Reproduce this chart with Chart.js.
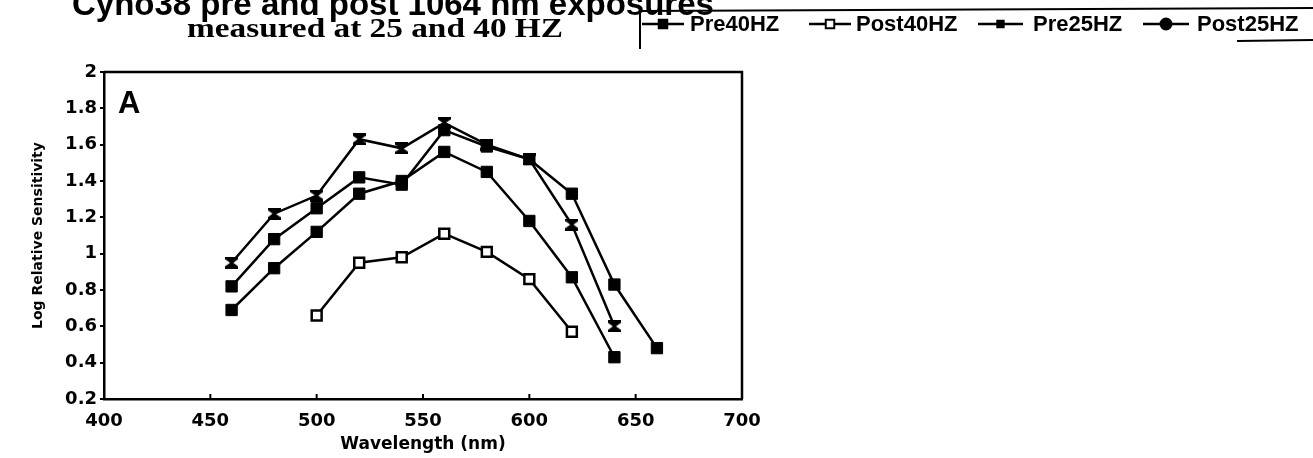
<!DOCTYPE html>
<html>
<head>
<meta charset="utf-8">
<script src="https://cdn.jsdelivr.net/npm/chart.js@4.4.1/dist/chart.umd.min.js"></script>
<style>
  body { margin: 0; background: #fff; }
  canvas { display: block; }
</style>
</head>
<body>
<canvas id="chart" width="1313" height="458"></canvas>
<script>
// values
var wavelengths = [460, 480, 500, 520, 540, 560, 580, 600, 620, 640, 660];
var pre40 = [0.82, 1.08, 1.25, 1.42, 1.38, 1.68, 1.59, 1.52, 1.33, 0.83, 0.48];
var post40 = [null, null, 0.66, 0.95, 0.98, 1.11, 1.01, 0.86, 0.57, null, null];
var pre25 = [0.95, 1.22, 1.32, 1.63, 1.58, 1.72, 1.60, 1.52, 1.16, 0.60, null];
var post25 = [0.69, 0.92, 1.12, 1.33, 1.40, 1.56, 1.45, 1.18, 0.87, 0.43, null];
var seriesNames = ['Pre40HZ', 'Post40HZ', 'Pre25HZ', 'Post25HZ'];

var xMin = 400, xMax = 700, xStep = 50;
var yMin = 0.2, yMax = 2, yStep = 0.2;

var titleText = 'Cyno38 pre and post 1064 nm exposures';
var subtitleText = 'measured at 25 and 40 HZ';
var panelLabel = 'A';
var xTitle = 'Wavelength (nm)';
var yTitle = 'Log Relative Sensitivity';

function toPoints(values) {
    var pts = [];
    wavelengths.forEach((w, i) => {
        if (values[i] !== null) pts.push({x: w, y: values[i]});
    });
    return pts;
}

// bow-tie marker used for the Pre25HZ curve
function hourglass() {
    var c = document.createElement('canvas');
    c.width = 13; c.height = 12;
    var g = c.getContext('2d');
    g.fillStyle = '#000';
    g.beginPath();
    g.moveTo(0, 0); g.lineTo(13, 0); g.lineTo(13, 2.5); g.lineTo(8, 6);
    g.lineTo(13, 9.5); g.lineTo(13, 12); g.lineTo(0, 12); g.lineTo(0, 9.5);
    g.lineTo(5, 6); g.lineTo(0, 2.5);
    g.closePath();
    g.fill();
    return c;
}

function series(label, values, style, radius, fill, bw) {
    return {
        label: label,
        data: toPoints(values),
        borderColor: '#000',
        borderWidth: 2.5,
        tension: 0,
        fill: false,
        pointStyle: style,
        pointRadius: radius,
        pointHoverRadius: radius,
        pointBackgroundColor: fill,
        pointBorderColor: '#000',
        pointBorderWidth: bw
    };
}

var legendSlots = [
    {line: 642, len: 42, text: 690, style: 'rect', r: 6, fill: '#000'},
    {line: 809, len: 42, text: 856, style: 'rect', r: 6, fill: '#fff'},
    {line: 978, len: 45, text: 1033, style: 'rect', r: 4.5, fill: '#000'},
    {line: 1143, len: 46, text: 1197, style: 'circle', r: 5.5, fill: '#000'}
];

var decorations = {
    id: 'decorations',
    afterDraw(chart) {
        var ctx = chart.ctx;
        var a = chart.chartArea;
        var xs = chart.scales.x;
        ctx.save();
        ctx.strokeStyle = '#000';
        ctx.fillStyle = '#000';

        // frame top and right
        ctx.lineWidth = 2.5;
        ctx.beginPath();
        ctx.moveTo(a.left, a.top);
        ctx.lineTo(a.right, a.top);
        ctx.lineTo(a.right, a.bottom);
        ctx.stroke();

        // x ticks point inward
        ctx.lineWidth = 2;
        xs.ticks.forEach(t => {
            var px = xs.getPixelForValue(t.value);
            ctx.beginPath();
            ctx.moveTo(px, a.bottom);
            ctx.lineTo(px, a.bottom - 5);
            ctx.stroke();
        });

        // panel letter
        ctx.font = 'bold 31px "Liberation Sans"';
        ctx.textBaseline = 'top';
        ctx.fillText(panelLabel, 118, 89);

        // title
        ctx.textBaseline = 'alphabetic';
        ctx.font = 'bold 33px "Liberation Sans"';
        ctx.fillText(titleText, 72, 15);

        // subtitle
        ctx.font = 'bold 28px "Liberation Serif"';
        var w = ctx.measureText(subtitleText).width;
        ctx.save();
        ctx.translate(187, 37);
        ctx.scale(376 / w, 1);
        ctx.fillText(subtitleText, 0, 0);
        ctx.restore();

        // legend box
        ctx.lineWidth = 2;
        ctx.beginPath();
        ctx.moveTo(640, 49);
        ctx.lineTo(640, 11);
        ctx.lineTo(1313, 8);
        ctx.stroke();
        ctx.beginPath();
        ctx.moveTo(1237, 41);
        ctx.lineTo(1313, 40);
        ctx.stroke();

        ctx.font = 'bold 22px "Liberation Sans"';
        ctx.textBaseline = 'middle';
        chart.data.datasets.forEach((ds, i) => {
            var s = legendSlots[i];
            var y = 24;
            ctx.lineWidth = 2.5;
            ctx.beginPath();
            ctx.moveTo(s.line, y);
            ctx.lineTo(s.line + s.len, y);
            ctx.stroke();
            ctx.fillStyle = s.fill;
            ctx.lineWidth = 2;
            Chart.helpers.drawPoint(ctx, {pointStyle: s.style, radius: s.r, borderWidth: 2, rotation: 0}, s.line + s.len / 2, y);
            ctx.fillStyle = '#000';
            ctx.fillText(ds.label, s.text, y + 1);
        });
        ctx.restore();
    }
};

var tickFont = {family: 'DejaVu Sans', weight: 'bold', size: 18};

new Chart(document.getElementById('chart'), {
    type: 'line',
    data: {
        datasets: [
            series(seriesNames[0], pre40, 'rect', 8, '#000', 1),
            series(seriesNames[1], post40, 'rect', 7, '#fff', 2.5),
            series(seriesNames[2], pre25, hourglass(), 6, '#000', 1),
            series(seriesNames[3], post25, 'rect', 8, '#000', 1)
        ]
    },
    options: {
        responsive: false,
        animation: false,
        layout: {padding: {top: 72, right: 571, left: 0, bottom: 0}},
        plugins: {
            legend: {display: false},
            title: {display: false},
            tooltip: {enabled: false}
        },
        scales: {
            x: {
                type: 'linear',
                min: xMin,
                max: xMax,
                ticks: {stepSize: xStep, color: '#000', font: tickFont, padding: 12, maxRotation: 0},
                grid: {drawOnChartArea: false, drawTicks: false, color: '#000'},
                border: {color: '#000', width: 2.5},
                title: {display: true, text: xTitle, color: '#000',
                        font: {family: 'DejaVu Sans', weight: 'bold', size: 17},
                        padding: {top: 0, bottom: 3}},
                afterFit(s) { s.height = 59; s.paddingLeft = 0; s.paddingRight = 0; }
            },
            y: {
                min: yMin,
                max: yMax,
                ticks: {stepSize: yStep, color: '#000', font: tickFont, padding: 3,
                        callback: v => String(+v.toFixed(1))},
                grid: {drawOnChartArea: false, drawTicks: true, tickLength: 4, color: '#000', lineWidth: 2},
                border: {color: '#000', width: 2.5},
                title: {display: true, text: yTitle, color: '#000',
                        font: {family: 'DejaVu Sans', weight: 'bold', size: 14},
                        padding: {top: 30, bottom: 0}},
                afterFit(s) { s.width = 104; s.paddingTop = 0; s.paddingBottom = 0; }
            }
        }
    },
    plugins: [decorations]
});
</script>
</body>
</html>
